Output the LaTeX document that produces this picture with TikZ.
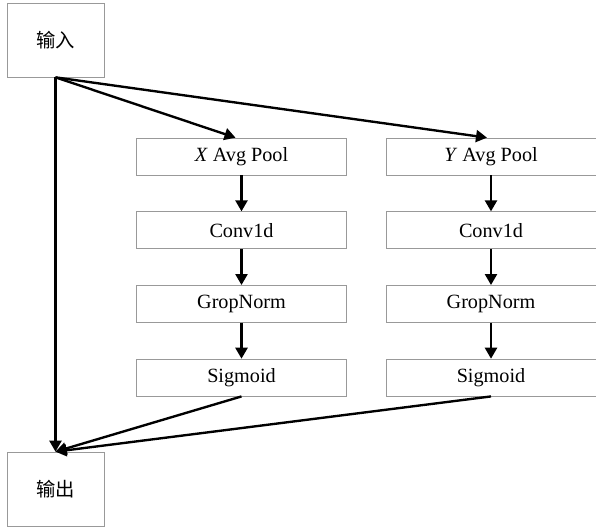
\documentclass[tikz,border=0pt]{standalone}
\usepackage{fontspec}
\setmainfont{Liberation Serif}
\newfontfamily\cjk{Noto Sans CJK SC}
\usetikzlibrary{arrows.meta,positioning}
\tikzset{
	blk/.style={
		rectangle,
		draw=gray!80,
		minimum width=4.2cm,
		minimum height=0.74cm,
		inner sep=0pt,
		font=\fontsize{11.5}{13}\selectfont
	},
	io/.style={
		rectangle,
		draw=gray!80,
		minimum width=1.94cm,
		minimum height=1.48cm,
		inner sep=0pt,
		font=\cjk\fontsize{11}{12}\selectfont
	}
}

\begin{document}
\begin{tikzpicture}[x=0.02cm, y=-0.02cm]
		\tikzstyle{connect}=[-{Triangle[length=2.2mm,width=2.4mm]}, line width=1.35pt]
		\useasboundingbox (0,0) rectangle (596,529);
		\node[io] (in) at (55.5,40) {输入};
		\node[io] (out) at (55.5,489) {输出};
		\node[blk] (xpool) at (241.5,156.5) {\textit{X} Avg Pool};
		\node[blk] (xconv) [below=0.72cm of xpool] {Conv1d};
		\node[blk] (xnorm) [below=0.72cm of xconv] {GropNorm};
		\node[blk] (xsig) [below=0.72cm of xnorm] {Sigmoid};
		\node[blk] (ypool) at (491,156.5) {\textit{Y} Avg Pool};
		\node[blk] (yconv) [below=0.72cm of ypool] {Conv1d};
		\node[blk] (ynorm) [below=0.72cm of yconv] {GropNorm};
		\node[blk] (ysig) [below=0.72cm of ynorm] {Sigmoid};
		
		\path[connect]
		(in.south) edge ([xshift=-0.12cm]xpool.north)
		(in.south) edge ([xshift=-0.08cm]ypool.north)
		(in.south) edge (out.north)
		(xpool) edge (xconv)
		(xconv) edge (xnorm)
		(xnorm) edge (xsig)
		(ypool) edge (yconv)
		(yconv) edge (ynorm)
		(ynorm) edge (ysig)
		(xsig.south) edge (out.north)
		(ysig.south) edge (out.north)
		;
\end{tikzpicture}
\end{document}
